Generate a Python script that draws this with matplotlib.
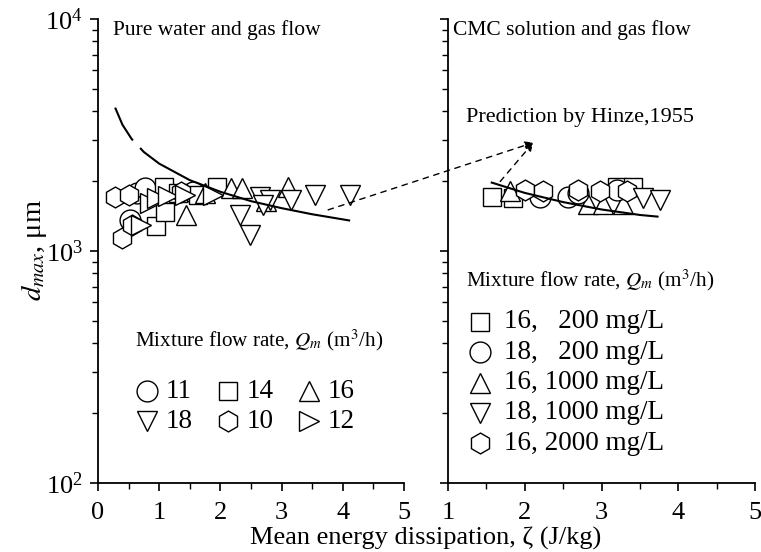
import matplotlib
matplotlib.use("Agg")
import matplotlib.pyplot as plt
from matplotlib.ticker import MultipleLocator, LogLocator, NullFormatter

plt.rcParams['font.family'] = ['Liberation Serif', 'DejaVu Serif']
plt.rcParams['mathtext.fontset'] = 'stix'

# ---- pure water / gas flow (left panel), keyed by mixture flow rate Qm ----
water_11_x = [0.63, 0.77, 0.52, 1.55]
water_11_y = [1780, 1870, 1360, 1800]
water_14_x = [0.95, 1.10, 1.08, 1.30, 1.63, 1.94]
water_14_y = [1282, 1478, 1890, 1780, 1745, 1896]
water_16_x = [1.43, 1.75, 2.18, 2.35, 3.11, 2.75]
water_16_y = [1431, 1780, 1870, 1870, 1896, 1640]
water_18_x = [2.32, 2.48, 2.65, 2.81, 2.70, 3.16, 3.55, 4.12]
water_18_y = [1431, 1172, 1717, 1660, 1580, 1660, 1745, 1745]
water_10_x = [0.28, 0.50, 0.39, 0.55, 1.35]
water_10_y = [1717, 1745, 1135, 1295, 1800]
water_12_x = [0.71, 0.85, 0.97, 1.15, 1.42, 1.88]
water_12_y = [1295, 1610, 1700, 1730, 1745, 1745]

# Hinze (1955) prediction curves
hinze_water_x = [0.28, 0.40, 0.55, 0.75, 1.0, 1.5, 2.0, 2.5, 3.0, 3.5, 4.12]
hinze_water_y = [4150, 3500, 3040, 2670, 2380, 2020, 1800, 1640, 1530, 1440, 1352]
hinze_cmc_x = [1.57, 2.0, 2.5, 3.0, 3.5, 3.73]
hinze_cmc_y = [1972, 1780, 1625, 1510, 1430, 1407]

# ---- CMC solution / gas flow (right panel) ----
cmc_16_200_x = [1.57, 1.85, 3.20, 3.41]
cmc_16_200_y = [1717, 1690, 1895, 1895]
cmc_18_200_x = [2.20, 2.56, 2.70, 3.20]
cmc_18_200_y = [1717, 1717, 1780, 1840]
cmc_16_1000_x = [1.81, 2.83, 3.02, 3.28]
cmc_16_1000_y = [1805, 1600, 1600, 1600]
cmc_18_1000_x = [3.54, 3.76]
cmc_18_1000_y = [1689, 1660]
cmc_16_2000_x = [2.00, 2.24, 2.69, 2.98, 3.33]
cmc_16_2000_y = [1835, 1810, 1835, 1810, 1810]

left_legend_labels = ['11', '14', '16', '18', '10', '12']
right_legend_labels = ['16,   200 mg/L', '18,   200 mg/L', '16, 1000 mg/L',
                       '18, 1000 mg/L', '16, 2000 mg/L']

fig = plt.figure(figsize=(7.61, 5.52), dpi=100)
ax1 = fig.add_axes([98 / 761, 69 / 552, 306 / 761, 464 / 552])
ax2 = fig.add_axes([448 / 761, 69 / 552, 307 / 761, 464 / 552])

mk = dict(linestyle='none', markerfacecolor='white', markeredgecolor='black',
          markeredgewidth=1.0, markersize=15)

for ax in (ax1, ax2):
    ax.set_yscale('log')
    ax.set_ylim(100, 10000)
    for s in ('top', 'right'):
        ax.spines[s].set_visible(False)
    for s in ('left', 'bottom'):
        ax.spines[s].set_linewidth(1.3)
    ax.xaxis.set_major_locator(MultipleLocator(1))
    ax.xaxis.set_minor_locator(MultipleLocator(0.5))
    ax.yaxis.set_major_locator(LogLocator(base=10))
    ax.yaxis.set_minor_locator(LogLocator(base=10, subs=range(2, 10)))
    ax.yaxis.set_minor_formatter(NullFormatter())
    ax.tick_params(which='major', direction='out', length=6, width=1.2,
                   labelsize=19, pad=5)
    ax.tick_params(axis='x', which='major', pad=8)
    ax.tick_params(which='minor', direction='out', length=4, width=1.0)

ax1.set_xlim(0, 5)
ax2.set_xlim(1, 5)
ax2.tick_params(axis='y', which='both', labelleft=False)

# left panel data
ax1.plot(water_11_x, water_11_y, marker='o', **mk)
ax1.plot(water_14_x, water_14_y, marker='s', **{**mk, 'markersize': 13})
ax1.plot(water_16_x, water_16_y, marker='^', **mk)
ax1.plot(water_10_x, water_10_y, marker='h', **mk)
ax1.plot(water_12_x, water_12_y, marker='>', **mk)
ax1.plot(water_18_x, water_18_y, marker='v', **mk)
ax1.plot(hinze_water_x, hinze_water_y, color='black', lw=1.5,
         linestyle=(0, (18, 5, 400, 0)), zorder=5)

# right panel data
ax2.plot(cmc_16_200_x, cmc_16_200_y, marker='s', **{**mk, 'markersize': 13})
ax2.plot(cmc_16_1000_x, cmc_16_1000_y, marker='^', **mk)
ax2.plot(cmc_18_200_x, cmc_18_200_y, marker='o', **mk)
ax2.plot(cmc_16_2000_x, cmc_16_2000_y, marker='h', **mk)
ax2.plot(cmc_18_1000_x, cmc_18_1000_y, marker='v', **mk)
ax2.plot(hinze_cmc_x, hinze_cmc_y, color='black', lw=1.5, zorder=5)

# dashed pointers to the prediction label
arrow = dict(arrowstyle='-|>', linestyle=(0, (4, 4)), color='black', lw=1.0,
             mutation_scale=12, shrinkA=0, shrinkB=0)
ax2.annotate('', xy=(2.11, 2930), xycoords=ax2.transData,
             xytext=(3.76, 1504), textcoords=ax1.transData,
             arrowprops=arrow, annotation_clip=False)
ax2.annotate('', xy=(2.11, 2930), xycoords=ax2.transData,
             xytext=(1.68, 1993), textcoords=ax2.transData,
             arrowprops=arrow, annotation_clip=False)

fs = 15.5
ax1.text(0.049, 0.976, 'Pure water and gas flow', transform=ax1.transAxes,
         fontsize=fs, va='center', ha='left')
ax2.text(0.016, 0.976, 'CMC solution and gas flow', transform=ax2.transAxes,
         fontsize=fs, va='center', ha='left')
ax2.text(0.059, 0.787, 'Prediction by Hinze,1955', transform=ax2.transAxes,
         fontsize=16, va='center', ha='left')
qm_label = r'Mixture flow rate, $Q_m$ (m$^3$/h)'
ax1.text(0.121, 0.308, qm_label, transform=ax1.transAxes, fontsize=15.2,
         va='center', ha='left')
ax2.text(0.059, 0.4375, qm_label, transform=ax2.transAxes, fontsize=15.2,
         va='center', ha='left')

key_fs = 19.5
# left key: two rows of three
left_markers = ['o', 's', '^', 'v', 'h', '>']
for i, (m, lab) in enumerate(zip(left_markers, left_legend_labels)):
    row, col = divmod(i, 3)
    mx = (147 + 81 * col - 98) / 306
    my = 1 - (391 + 30 * row - 19) / 464
    ax1.plot([mx], [my], marker=m, transform=ax1.transAxes, clip_on=False,
             **{**mk, 'markersize': 13 if m == 's' else 15})
    ax1.text(mx + 19 / 306, my, lab, transform=ax1.transAxes, fontsize=key_fs,
             va='center', ha='left')

# right key: one column
right_markers = ['s', 'o', '^', 'v', 'h']
for i, (m, lab) in enumerate(zip(right_markers, right_legend_labels)):
    mx = (480 - 448) / 307
    my = 1 - (322 + 30.3 * i - 19) / 464
    ax2.plot([mx], [my], marker=m, transform=ax2.transAxes, clip_on=False,
             **{**mk, 'markersize': 13 if m == 's' else 15})
    ax2.text(mx + 24 / 307, my, lab, transform=ax2.transAxes, fontsize=key_fs,
             va='center', ha='left')

fig.text(426 / 761, 14 / 552, 'Mean energy dissipation, ζ (J/kg)',
         fontsize=19, ha='center', va='center')
fig.text(34 / 761, 1 - 250 / 552, r'$d_{max}$, μm', fontsize=20.5,
         rotation=90, ha='center', va='center')

fig.savefig('out.png', dpi=100)
